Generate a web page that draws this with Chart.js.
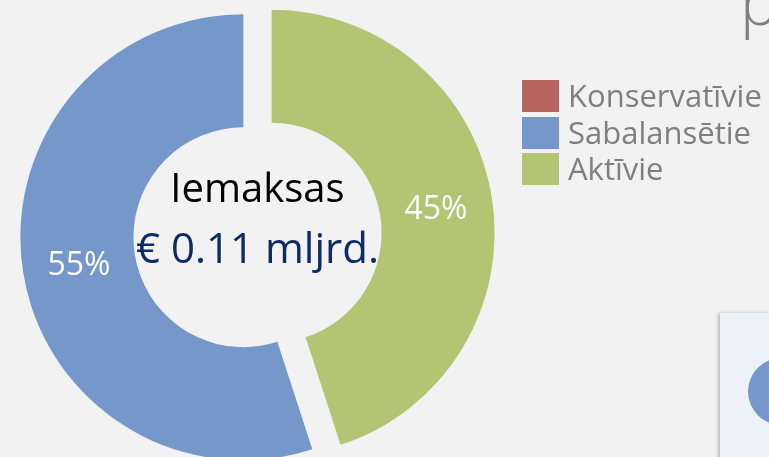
<!DOCTYPE html>
<html>
<head>
<meta charset="utf-8">
<script src="https://cdn.jsdelivr.net/npm/chart.js@4/dist/chart.umd.min.js"></script>
<style>
  html, body { margin:0; padding:0; background:#f2f2f2; width:769px; height:457px; overflow:hidden; }
  #wrap { position:absolute; left:0; top:0; width:769px; height:457px; }
  canvas { position:absolute; left:0; top:0; }
  .leg { position:absolute; left:522px; font-family:"Open Sans", sans-serif; color:#7f7f7f; font-size:31px; }
  .legrow { position:absolute; left:0; height:32px; white-space:nowrap; }
  .legbox { position:absolute; left:0; top:0; width:37px; height:32px; }
  .legtxt { position:absolute; left:46px; top:50%; transform:translateY(-52%); line-height:1; }
  #ptitle { position:absolute; left:740px; top:-31px; font-family:"Open Sans", sans-serif; font-weight:300; font-size:64px; color:#7f7f7f; line-height:1; }
  #panel { position:absolute; left:720px; top:313px; width:80px; height:160px; background:#edf2fa; box-shadow:-2px 0 3px rgba(0,0,0,0.22); }
  #dot { position:absolute; left:747.5px; top:358px; width:67px; height:67px; border-radius:50%; background:#7597ca; }
</style>
</head>
<body>
<div id="wrap">
  <div id="ptitle">p</div>
  <div id="panel"></div>
  <div id="dot"></div>
  <canvas id="c" width="769" height="457"></canvas>
  <div class="leg" id="legend"></div>
</div>
<script>
// ---- data ----
const categories = ["Konservatīvie", "Sabalansētie", "Aktīvie"];
const shares = [0, 55, 45];
const colors = ["#b7635e", "#7597ca", "#b3c473"];
const centerTitle = "Iemaksas";
const centerValue = "€ 0.11 mljrd.";
const EXPLODE = 14.3;

// ---- legend (HTML, built from the arrays) ----
const legend = document.getElementById("legend");
const legTops = [80, 116.5, 153];
categories.forEach((name, i) => {
  const row = document.createElement("div");
  row.className = "legrow";
  row.style.top = legTops[i] + "px";
  const box = document.createElement("div");
  box.className = "legbox";
  box.style.background = colors[i];
  const t = document.createElement("div");
  t.className = "legtxt";
  t.textContent = name;
  row.appendChild(box);
  row.appendChild(t);
  legend.appendChild(row);
});

// ---- plugin: exploded slices (each arc moved outward along its mid angle) ----
const explodePlugin = {
  id: "explodePlugin",
  beforeDatasetDraw(chart, args) {
    const ctx = chart.ctx;
    args.meta.data.forEach((arc) => {
      const mid = (arc.startAngle + arc.endAngle) / 2;
      ctx.save();
      ctx.translate(Math.cos(mid) * EXPLODE, Math.sin(mid) * EXPLODE);
      arc.draw(ctx);
      ctx.restore();
    });
    return false;
  }
};

// ---- plugin: percentage labels and centre text ----
const labelsPlugin = {
  id: "labelsPlugin",
  afterDatasetsDraw(chart) {
    const ctx = chart.ctx;
    const meta = chart.getDatasetMeta(0);
    const ds = chart.data.datasets[0];
    const total = ds.data.reduce((a, b) => a + b, 0);
    ctx.save();
    ctx.textAlign = "center";
    ctx.textBaseline = "middle";
    ctx.fillStyle = "#ffffff";
    ctx.font = "32px 'Open Sans', sans-serif";
    meta.data.forEach((arc, i) => {
      const v = ds.data[i];
      if (!v) return;
      const mid = (arc.startAngle + arc.endAngle) / 2;
      const r = EXPLODE + (arc.innerRadius + arc.outerRadius) / 2;
      ctx.fillText(Math.round(v / total * 100) + "%", arc.x + Math.cos(mid) * r, arc.y + Math.sin(mid) * r + 3);
    });
    // centre text
    const a0 = meta.data[0];
    const cx = a0.x, cy = a0.y;
    ctx.fillStyle = "#000000";
    ctx.font = "40px 'Open Sans', sans-serif";
    ctx.fillText(centerTitle, cx, cy - 44);
    ctx.fillStyle = "#0f2a68";
    ctx.font = "42px 'Open Sans', sans-serif";
    ctx.fillText(centerValue, cx, cy + 16);
    ctx.restore();
  }
};

new Chart(document.getElementById("c"), {
  type: "doughnut",
  data: {
    labels: categories,
    datasets: [{
      data: shares,
      backgroundColor: colors,
      borderWidth: 0,
      hoverOffset: 0
    }]
  },
  options: {
    responsive: false,
    animation: false,
    events: [],
    rotation: 162,
    radius: 223,
    cutout: "49.3%",
    layout: { padding: { left: 0, right: 254, top: 13, bottom: 0 } },
    plugins: { legend: { display: false }, tooltip: { enabled: false } }
  },
  plugins: [explodePlugin, labelsPlugin]
});
</script>
</body>
</html>
